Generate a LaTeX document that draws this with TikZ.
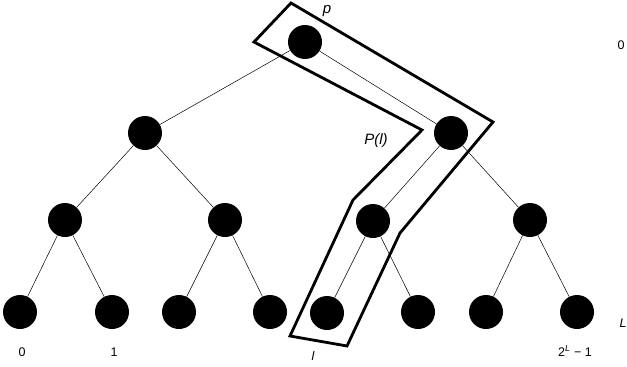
\documentclass[tikz,border=0pt]{standalone}
\usepackage{fontspec}
\setmainfont{Liberation Sans}
\begin{document}
\begin{tikzpicture}[x=1pt,y=-1pt,
  vertex/.style={circle,fill=black,minimum size=34pt,inner sep=0pt},
  edge/.style={line width=0.5pt},
  lbl/.style={font=\fontsize{12.5}{14}\selectfont},
  big/.style={font=\fontsize{15}{17}\selectfont\itshape}]
\useasboundingbox (0,0) rectangle (627,367);
% the tree
\node[vertex] (r) at (305,42) {};
\node[vertex] (a) at (145,133) {};
\node[vertex] (b) at (451,133) {};
\node[vertex] (aa) at (65,220) {};
\node[vertex] (ab) at (225,220) {};
\node[vertex] (ba) at (373,221) {};
\node[vertex] (bb) at (530,220) {};
\node[vertex] (l0) at (20,312) {};
\node[vertex] (l1) at (112,312) {};
\node[vertex] (l2) at (179,312) {};
\node[vertex] (l3) at (270,312) {};
\node[vertex] (l4) at (327,313) {};
\node[vertex] (l5) at (418,312) {};
\node[vertex] (l6) at (486,312) {};
\node[vertex] (l7) at (577,312) {};
\draw[edge] (r) -- (a);
\draw[edge] (r) -- (b);
\draw[edge] (a) -- (aa);
\draw[edge] (a) -- (ab);
\draw[edge] (b) -- (ba);
\draw[edge] (b) -- (bb);
\draw[edge] (aa) -- (l0);
\draw[edge] (aa) -- (l1);
\draw[edge] (ab) -- (l2);
\draw[edge] (ab) -- (l3);
\draw[edge] (ba) -- (l4);
\draw[edge] (ba) -- (l5);
\draw[edge] (bb) -- (l6);
\draw[edge] (bb) -- (l7);
% the path P(l)
\draw[line width=2.8pt,line join=miter] (291,3) -- (493,122) -- (400,233)
  -- (347,346) -- (290,336) -- (353,200) -- (422,130) -- (254,42) -- cycle;
% labels
\node[big] (p) at (327,11) {p};
\node[big] (pl) at (376,141) {P(l)};
\node[lbl] (t0) at (22,352) {0};
\node[lbl] (t1) at (114,352) {1};
\node[lbl] (tl) at (313,356) {\itshape l};
\node[lbl] (tlast) at (575,351) {2\textsuperscript{\itshape L} − 1};
\node[lbl] (lev0) at (621,45) {0};
\node[lbl] (levL) at (623,323) {\itshape L};
\end{tikzpicture}
\end{document}
